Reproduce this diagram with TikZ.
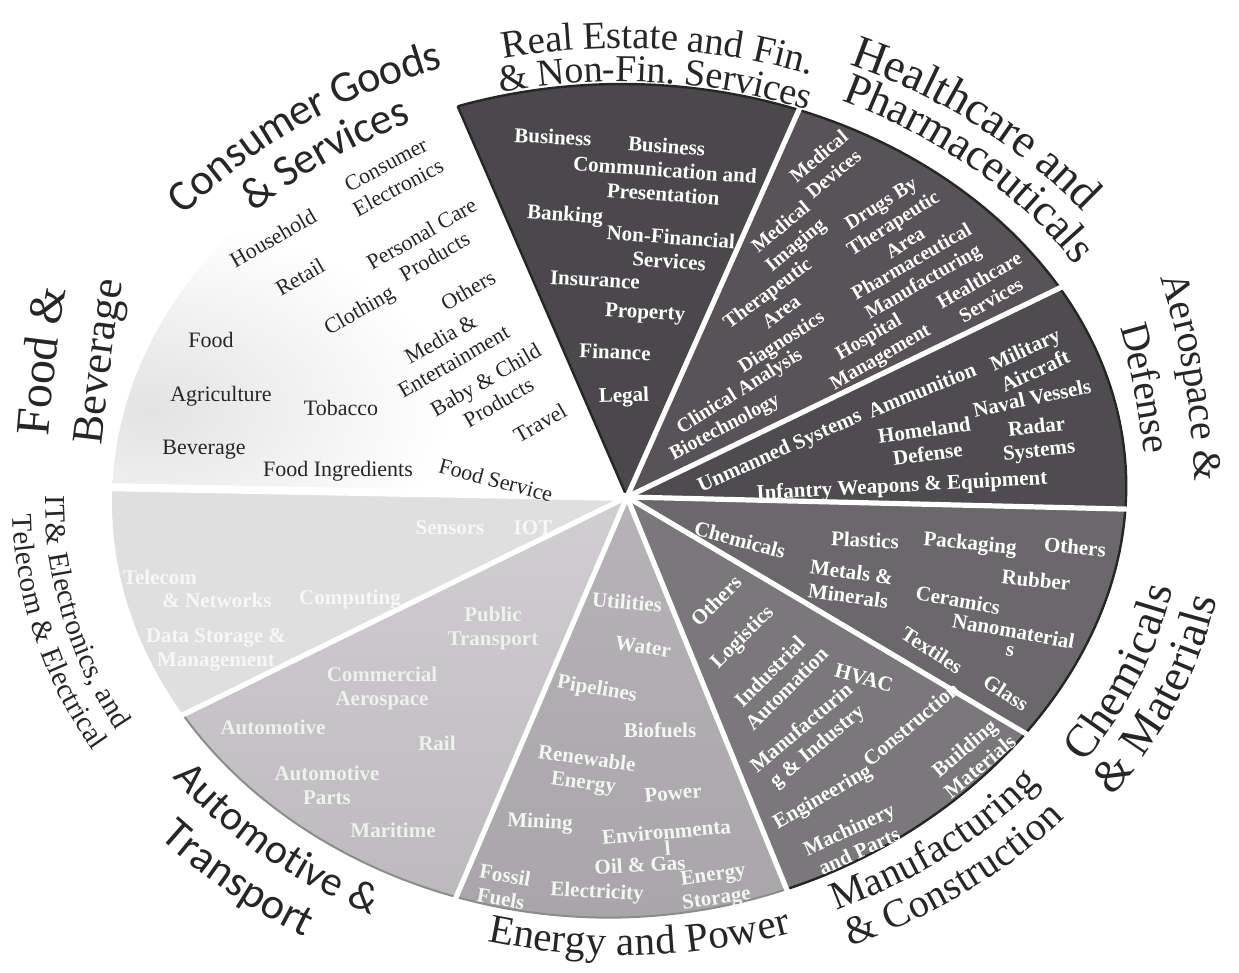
\documentclass[tikz,border=0pt]{standalone}
\usepackage{fontspec}
\setmainfont{Liberation Serif}
\newfontfamily\carl{Carlito}
\usetikzlibrary{decorations.text}
\definecolor{cre}{HTML}{4B484C}
\definecolor{chc}{HTML}{575357}
\definecolor{cad}{HTML}{4E4C4F}
\definecolor{ccm}{HTML}{6B686B}
\definecolor{cmc}{HTML}{7A787A}
\definecolor{cep}{HTML}{A9A6A9}
\definecolor{cat}{HTML}{BDBABD}
\definecolor{cit}{HTML}{E0DFE0}
\newcommand{\sfac}[1]{(1-0.035*(max(0,cos(#1+40)))^4)}
\newcommand{\sect}[3]{\path[#3] (627,497) -- plot[domain=#1:#2,samples=60] ({622+510*\sfac{\x}*cos(\x)},{502-418*\sfac{\x}*sin(\x)}) -- cycle;}
\newcommand{\cwlab}[6]{\path[decorate,decoration={text along path,text={|#3|#4},text align=center,raise=#6,text color=black!85}] plot[domain=-#5:#5,samples=41] ({622+#2*510*cos(#1-(\x))},{502-#2*418*sin(#1-(\x))});}
\newcommand{\ccwlab}[6]{\path[decorate,decoration={text along path,text={|#3|#4},text align=center,raise=#6,text color=black!85}] plot[domain=-#5:#5,samples=41] ({622+#2*510*cos(#1+(\x))},{502-#2*418*sin(#1+(\x))});}
\newcommand{\polylab}[3]{\path[decorate,decoration={text along path,text={|#1|#2},text align=center,raise=-5pt,text color=black!85}] plot coordinates {#3};}
\begin{document}
\begin{tikzpicture}[x=0.5pt,y=-0.5pt,
  wb/.style={font=\fontsize{10.5}{12}\selectfont\bfseries,text=white,align=center,inner sep=0pt},
  hb/.style={wb,font=\fontsize{10}{11.5}\selectfont\bfseries},
  ci/.style={font=\fontsize{11}{13}\selectfont,text=black!85,align=center,inner sep=0pt},
  eb/.style={wb,text=white!96!black},
  ab/.style={wb,text=white!94!black},
  ib/.style={wb,text=white!97!black}]
\useasboundingbox (0,0) rectangle (1239,973);
% sectors
\sect{178}{108.8}{fill=white}
\begin{scope}
  \clip (627,497) -- plot[domain=178:108.8,samples=60] ({622+510*cos(\x)},{502-418*sin(\x)}) -- cycle;
  \shade[inner color=black!11,outer color=white] (150,410) ellipse (300 and 190);
\end{scope}
\sect{108.8}{69.7}{fill=cre}
\sect{69.7}{30.8}{fill=chc}
\sect{30.8}{-1}{fill=cad}
\sect{-1}{-35}{fill=ccm}
\sect{-35}{-70.8}{fill=cmc}
\sect{-70.8}{-109}{top color=cep!85!white,bottom color=cep}
\sect{-109}{-149.4}{top color=cat!70!white,bottom color=cat}
\sect{-149.4}{-182}{fill=cit}
% outlines
\draw[black!85,line width=1.2pt] plot[domain=108.8:-70.8,samples=150] ({622+510*\sfac{\x}*cos(\x)},{502-418*\sfac{\x}*sin(\x)});
\draw[black!45,line width=1pt] plot[domain=-70.8:-149.4,samples=80] ({622+510*\sfac{\x}*cos(\x)},{502-418*\sfac{\x}*sin(\x)});
\draw[black!85,line width=1.2pt] (627,497) -- ({622+510*cos(108.8)},{502-418*sin(108.8)});
% separators
\foreach \a in {69.7,30.8,-1,-35,-70.8,-109,-149.4}
  \draw[white,line width=2.6pt] (627,497) -- ({622+522*\sfac{\a}*cos(\a)},{502-428*\sfac{\a}*sin(\a)});
\draw[white,line width=4pt] (627,497) -- ({622+522*cos(178)},{502-428*sin(178)});
% category labels
\cwlab{127.5}{1.12}{\carl\fontsize{22}{24}\selectfont}{Consumer Goods}{50}{-5pt}
\cwlab{128}{1.02}{\carl\fontsize{22}{24}\selectfont}{{\&} Services}{50}{-5pt}
\cwlab{86}{1.11}{\fontsize{19.5}{21}\selectfont}{Real Estate and Fin.}{40}{-5pt}
\cwlab{86}{1.03}{\fontsize{19}{21}\selectfont}{{\&} Non-Fin. Services}{40}{-5pt}
\cwlab{50.5}{1.16}{\fontsize{23.5}{25}\selectfont}{Healthcare and}{40}{-5pt}
\cwlab{47.5}{1.075}{\fontsize{22.5}{24}\selectfont}{Pharmaceuticals}{40}{-5pt}
\polylab{\fontsize{20}{22}\selectfont}{Aerospace {\&}}{(1150,220) (1163,250) (1178,300) (1190,350) (1198,400) (1203,450) (1205,500) (1205,540)}
\polylab{\fontsize{20}{22}\selectfont}{Defense}{(1110,260) (1120,290) (1134,340) (1145,390) (1153,440) (1158,490) (1160,520)}
\polylab{\fontsize{24}{26}\selectfont}{Food {\&}}{(34,500) (36,470) (40,420) (45,365) (52,310) (62,255) (70,225)}
\polylab{\fontsize{22}{24}\selectfont}{Beverage}{(86,510) (88,480) (93,430) (100,370) (108,310) (118,250) (126,215)}
\ccwlab{-21}{1.08}{\fontsize{23}{25}\selectfont}{Chemicals}{40}{-5pt}
\ccwlab{-22}{1.17}{\fontsize{23}{25}\selectfont}{{\&} Materials}{40}{-5pt}
\ccwlab{-51}{1.04}{\fontsize{20}{22}\selectfont}{Manufacturing}{40}{-5pt}
\ccwlab{-52}{1.13}{\fontsize{20}{22}\selectfont}{{\&} Construction}{40}{-5pt}
\ccwlab{-88}{1.06}{\fontsize{20.5}{22}\selectfont}{Energy and Power}{40}{-5pt}
\ccwlab{-132}{1.08}{\carl\fontsize{21}{23}\selectfont}{Automotive {\&}}{40}{-5pt}
\ccwlab{-132}{1.19}{\carl\fontsize{22}{24}\selectfont}{Transport}{40}{-5pt}
\ccwlab{-167}{1.115}{\fontsize{14.5}{16}\selectfont}{IT{\&} Electronics, and}{40}{-4pt}
\ccwlab{-165.5}{1.18}{\fontsize{14.5}{16}\selectfont}{Telecom {\&} Electrical}{40}{-4pt}
% consumer & food
\node[ci,rotate=28] (c1) at (392,176) {Consumer\\Electronics};
\node[ci,rotate=30] (c2) at (273,238) {Household};
\node[ci,rotate=30] (c3) at (428,245) {Personal Care\\Products};
\node[ci,rotate=30] (c4) at (300,277) {Retail};
\node[ci,rotate=30] (c5) at (360,312) {Clothing};
\node[ci,rotate=30] (c6) at (468,290) {Others};
\node[ci,rotate=30] (c7) at (447,350) {Media \&\\Entertainment};
\node[ci] (c8) at (211,340) {Food};
\node[ci] (c9) at (221,396) {Agriculture};
\node[ci] (c10) at (341,408) {Tobacco};
\node[ci,rotate=30] (c11) at (492,391) {Baby \& Child\\Products};
\node[ci,rotate=30] (c12) at (540,423) {Travel};
\node[ci] (c13) at (204,450) {Beverage};
\node[ci] (c14) at (338,471) {Food Ingredients};
\node[ci,rotate=-15] (c15) at (496,480) {Food Service};
% real estate
\node[wb,rotate=-3] (r1) at (553,137) {Business};
\node[wb,rotate=-4] (r2) at (665,170) {Business\\Communication and\\Presentation};
\node[wb,rotate=-4] (r3) at (565,216) {Banking};
\node[wb,rotate=-4] (r4) at (670,249) {Non-Financial\\Services};
\node[wb,rotate=-3] (r5) at (595,280) {Insurance};
\node[wb,rotate=-3] (r6) at (645,314) {Property};
\node[wb,rotate=-2] (r7) at (615,352) {Finance};
\node[wb,rotate=2] (r8) at (624,397) {Legal};
% healthcare
\node[hb,rotate=40] (h1) at (826,165) {Medical\\Devices};
\node[hb,rotate=40] (h2) at (789,237) {Medical\\Imaging};
\node[hb,rotate=32] (h3) at (893,223) {Drugs By\\Therapeutic\\Area};
\node[hb,rotate=37] (h4) at (774,302) {Therapeutic\\Area};
\node[hb,rotate=30] (h5) at (918,273) {Pharmaceutical\\Manufacturing};
\node[hb,rotate=33] (h6) at (782,343) {Diagnostics};
\node[hb,rotate=30] (h7) at (875,348) {Hospital\\Management};
\node[hb,rotate=30] (h8) at (985,290) {Healthcare\\Services};
\node[hb,rotate=32] (h9) at (740,392) {Clinical Analysis};
\node[hb,rotate=28] (h10) at (725,428) {Biotechnology};
% aerospace
\node[wb,rotate=24] (d1) at (780,452) {Unmanned Systems};
\node[wb,rotate=22] (d2) at (922,390) {Ammunition};
\node[wb,rotate=25] (d3) at (1030,360) {Military\\Aircraft};
\node[wb,rotate=12] (d4) at (1032,398) {Naval Vessels};
\node[wb,rotate=8] (d5) at (926,442) {Homeland\\Defense};
\node[wb,rotate=6] (d6) at (1038,440) {Radar\\Systems};
\node[wb,rotate=3] (d7) at (902,487) {Infantry Weapons \& Equipment};
% chemicals
\node[wb,rotate=-15] (m1) at (740,540) {Chemicals};
\node[wb,rotate=-3] (m2) at (865,540) {Plastics};
\node[wb,rotate=-5] (m3) at (970,545) {Packaging};
\node[wb,rotate=-5] (m4) at (1075,547) {Others};
\node[wb,rotate=-8] (m5) at (850,584) {Metals \&\\Minerals};
\node[wb,rotate=-6] (m6) at (1036,580) {Rubber};
\node[wb,rotate=-10] (m7) at (958,600) {Ceramics};
\node[wb,rotate=-10,font=\fontsize{10.5}{9}\selectfont\bfseries] (m8) at (1012,640) {Nanomaterial\\s};
\node[wb,rotate=-33] (m9) at (932,650) {Textiles};
\node[wb,rotate=-33] (m10) at (1006,693) {Glass};
% manufacturing
\node[wb,rotate=45] (f1) at (716,601) {Others};
\node[wb,rotate=45] (f2) at (743,638) {Logistics};
\node[wb,rotate=45] (f3) at (778,680) {Industrial\\Automation};
\node[wb,rotate=-15] (f4) at (864,678) {HVAC};
\node[wb,rotate=40] (f5) at (810,738) {Manufacturin\\g \& Industry};
\node[wb,rotate=40] (f6) at (911,724) {Construction};
\node[wb,rotate=30] (f7) at (823,798) {Engineering};
\node[wb,rotate=40] (f8) at (972,757) {Building\\Materials};
\node[wb,rotate=25] (f9) at (854,840) {Machinery\\and Parts};
% energy
\node[eb,rotate=-5] (e1) at (627,602) {Utilities};
\node[eb,rotate=-8] (e2) at (643,647) {Water};
\node[eb,rotate=-10] (e3) at (597,690) {Pipelines};
\node[eb] (e4) at (660,730) {Biofuels};
\node[eb,rotate=-8] (e5) at (585,772) {Renewable\\Energy};
\node[eb,rotate=5] (e6) at (673,793) {Power};
\node[eb,rotate=-3] (e7) at (540,823) {Mining};
\node[eb,rotate=5,font=\fontsize{10.5}{8.5}\selectfont\bfseries] (e8) at (667,840) {Environmenta\\l};
\node[eb,rotate=3] (e9) at (640,865) {Oil \& Gas};
\node[eb,rotate=-10] (e10) at (503,887) {Fossil\\Fuels};
\node[eb,rotate=-3] (e11) at (597,893) {Electricity};
\node[eb,rotate=8] (e12) at (715,888) {Energy\\Storage};
% automotive
\node[ab] (t1) at (493,628) {Public\\Transport};
\node[ab] (t2) at (382,688) {Commercial\\Aerospace};
\node[ab] (t3) at (273,727) {Automotive};
\node[ab] (t4) at (437,743) {Rail};
\node[ab] (t5) at (327,785) {Automotive\\Parts};
\node[ab] (t6) at (393,830) {Maritime};
% IT
\node[ib] (i1) at (160,577) {Telecom};
\node[ib] (i2) at (217,600) {\& Networks};
\node[ib] (i3) at (350,600) {Computing};
\node[ib] (i4) at (216,650) {Data Storage \&\\Management};
\node[ib] (i5) at (450,528) {Sensors};
\node[ib] (i6) at (533,528) {IOT};
\end{tikzpicture}
\end{document}
